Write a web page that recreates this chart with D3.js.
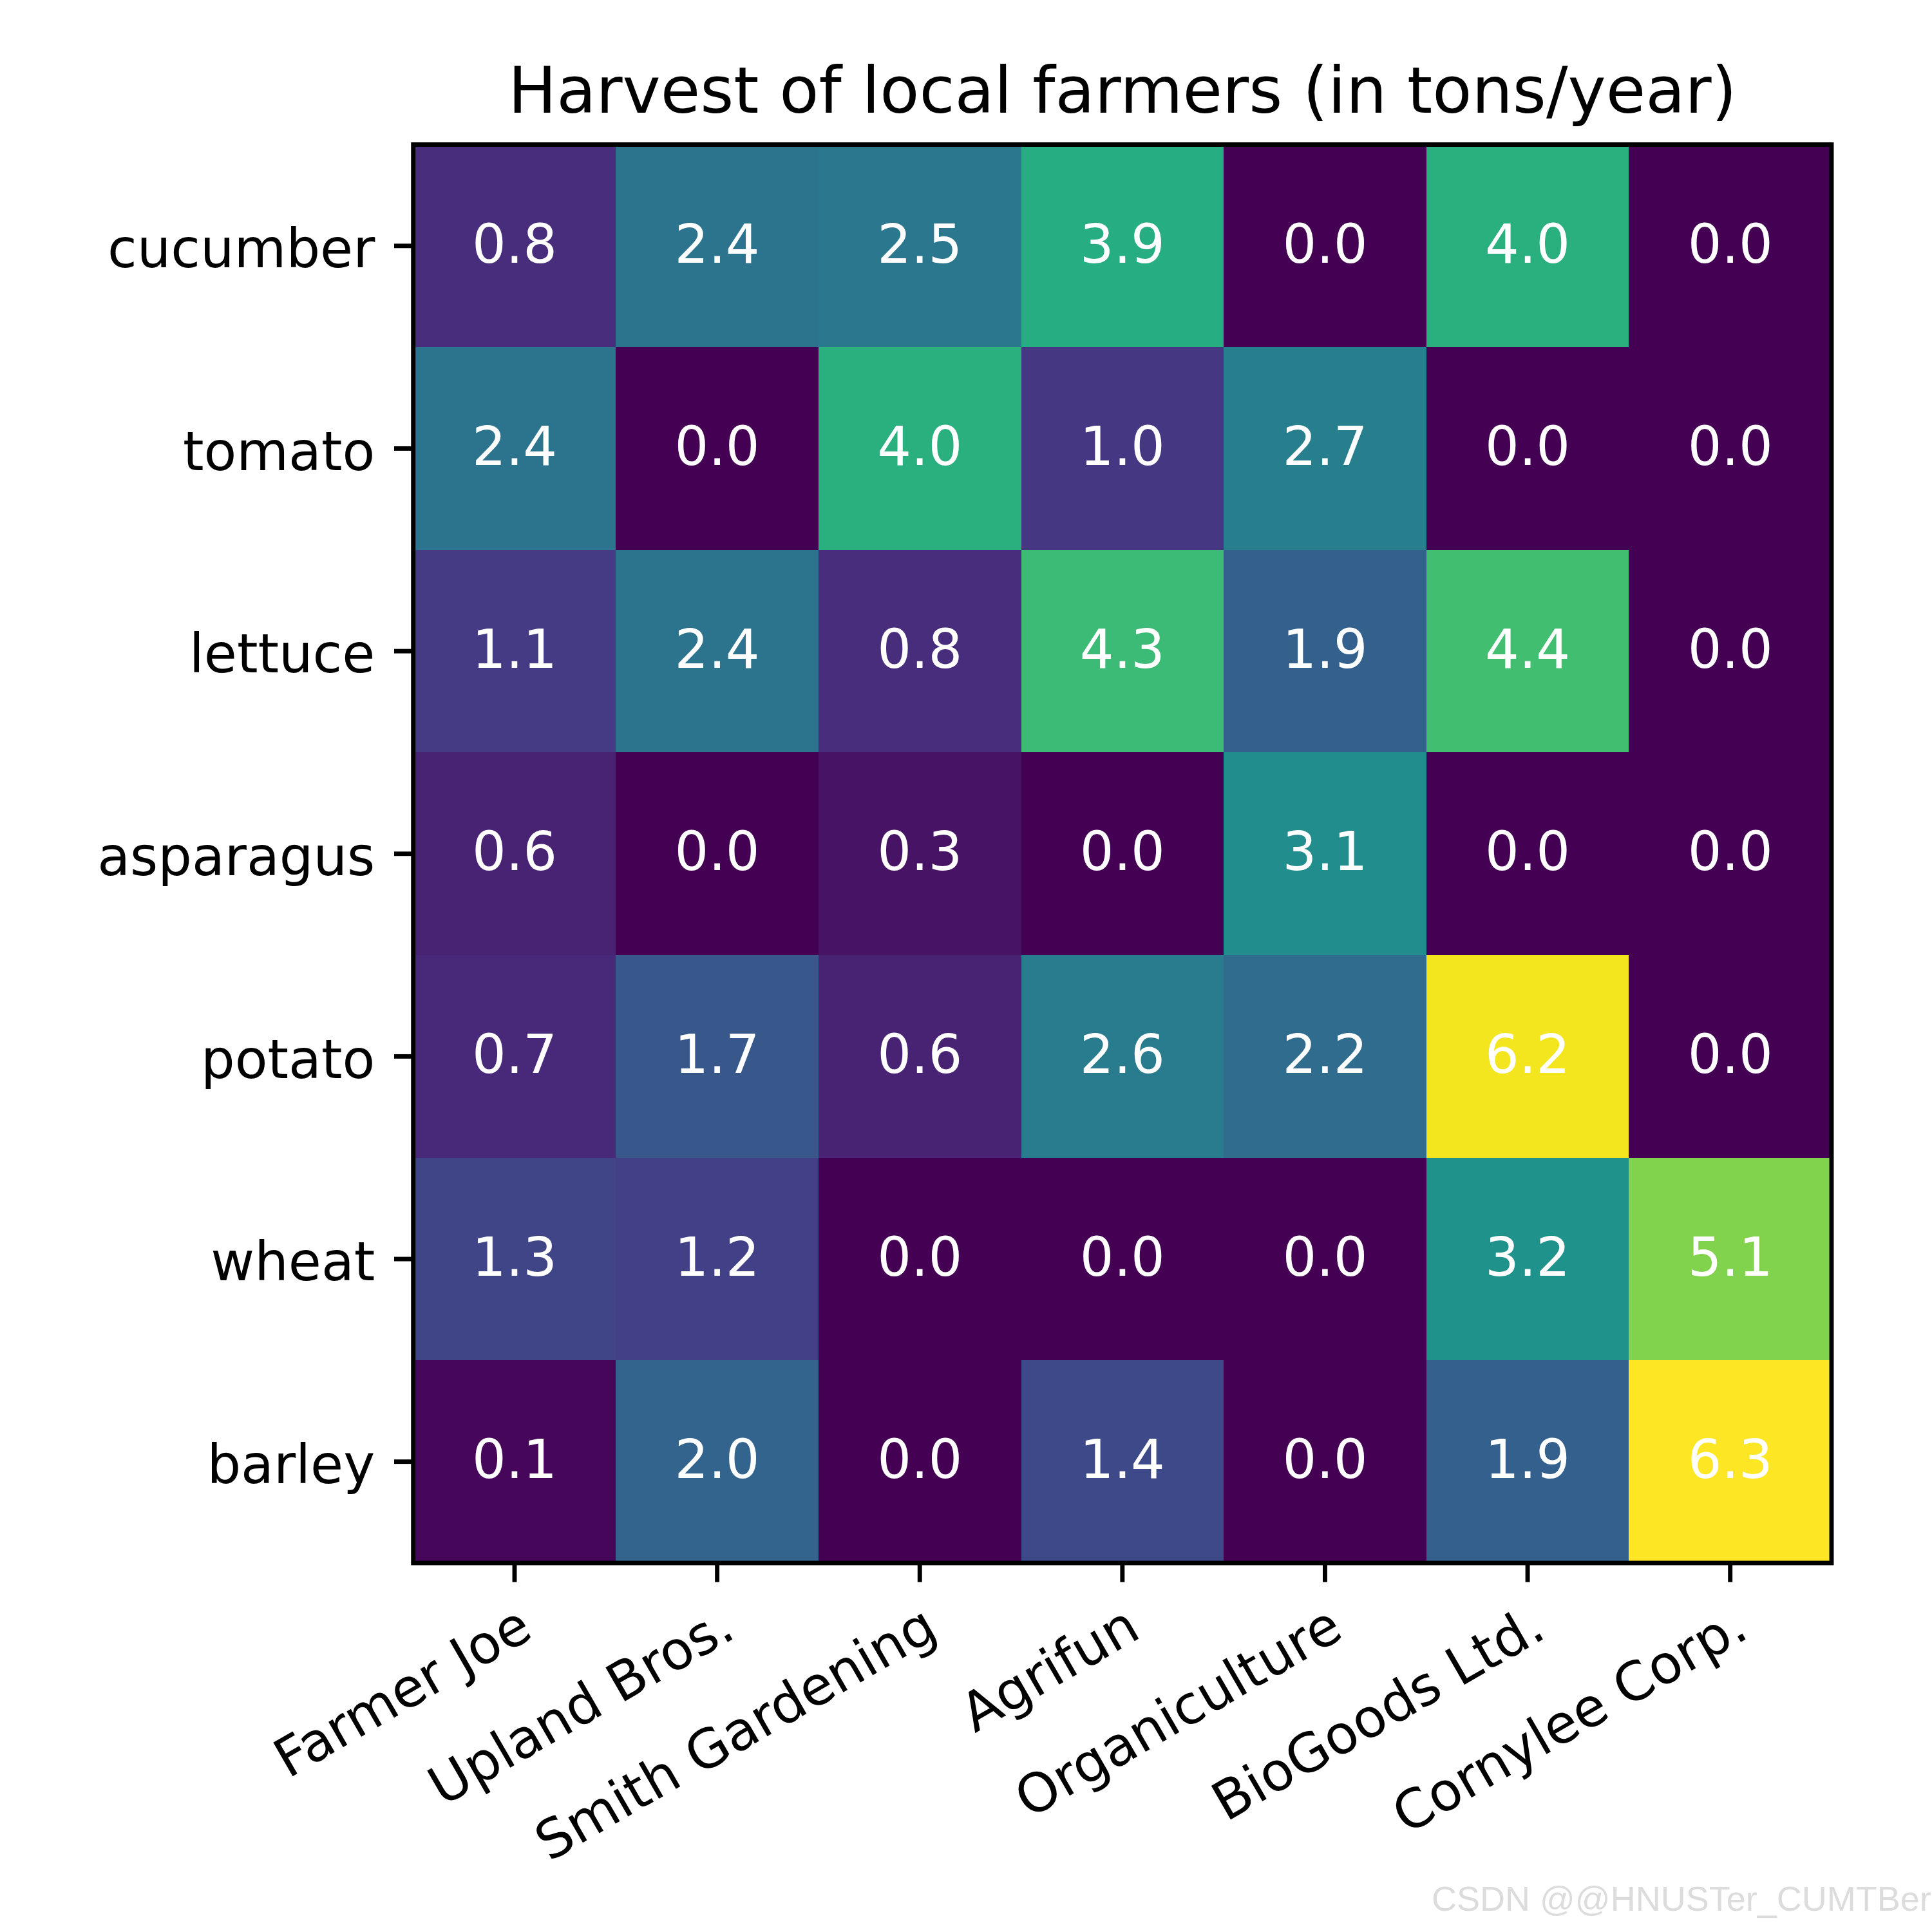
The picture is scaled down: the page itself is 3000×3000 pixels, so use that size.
<!DOCTYPE html>
<html>
<head>
<meta charset="utf-8">
<script src="https://cdn.jsdelivr.net/npm/d3@7"></script>
<style>
  body { margin: 0; background: white; }
  svg { display: block; }
</style>
</head>
<body>
<div id="the_chart"></div>
<script>
var vegetables = ["cucumber", "tomato", "lettuce", "asparagus", "potato", "wheat", "barley"];
var farmers = ["Farmer Joe", "Upland Bros.", "Smith Gardening", "Agrifun", "Organiculture", "BioGoods Ltd.", "Cornylee Corp."];

// one row per vegetable, one value per farmer
var cucumber  = [0.8, 2.4, 2.5, 3.9, 0.0, 4.0, 0.0];
var tomato    = [2.4, 0.0, 4.0, 1.0, 2.7, 0.0, 0.0];
var lettuce   = [1.1, 2.4, 0.8, 4.3, 1.9, 4.4, 0.0];
var asparagus = [0.6, 0.0, 0.3, 0.0, 3.1, 0.0, 0.0];
var potato    = [0.7, 1.7, 0.6, 2.6, 2.2, 6.2, 0.0];
var wheat     = [1.3, 1.2, 0.0, 0.0, 0.0, 3.2, 5.1];
var barley    = [0.1, 2.0, 0.0, 1.4, 0.0, 1.9, 6.3];
var harvest = [cucumber, tomato, lettuce, asparagus, potato, wheat, barley];

var title = "Harvest of local farmers (in tons/year)";
var watermark = "CSDN @@HNUSTer_CUMTBer";

var cells = [];
harvest.forEach(function(row, i) {
    row.forEach(function(v, j) {
        cells.push({veg: vegetables[i], farmer: farmers[j], value: v});
    });
});

var w = 3000;
var h = 3000;
// axes box (note: "top" is a reserved window global, so prefix everything)
var axLeft = 641.7, axRight = 2844, axTop = 224.5, axBottom = 2427;
var lw = 6.9;        // spine / tick width
var tickLen = 29.7;
var pad = 29.7;
var fs = 83;         // tick label + annotation size

var svg = d3.select("#the_chart")
            .append("svg")
            .attr("width", w)
            .attr("height", h)
            .style("overflow", "hidden");

var xscale = d3.scaleBand()
               .domain(farmers)
               .range([axLeft, axRight])
               .padding(0);

var yscale = d3.scaleBand()
               .domain(vegetables)
               .range([axTop, axBottom])
               .padding(0);

var cscale = d3.scaleSequential(d3.interpolateViridis)
               .domain([0, d3.max(cells, function(d) { return d.value; })]);

// heatmap cells
svg.append("g")
   .selectAll("rect")
   .data(cells)
 .enter().append("rect")
   .attr("x", function(d) { return xscale(d.farmer); })
   .attr("y", function(d) { return yscale(d.veg); })
   .attr("width", xscale.bandwidth() + 0.5)
   .attr("height", yscale.bandwidth() + 0.5)
   .attr("fill", function(d) { return cscale(d.value); })
   .attr("shape-rendering", "crispEdges");

// value labels
svg.append("g")
   .selectAll("text")
   .data(cells)
 .enter().append("text")
   .attr("x", function(d) { return xscale(d.farmer) + xscale.bandwidth() / 2; })
   .attr("y", function(d) { return yscale(d.veg) + yscale.bandwidth() / 2; })
   .attr("dy", "0.31em")
   .attr("text-anchor", "middle")
   .attr("font-family", "DejaVu Sans")
   .attr("font-size", fs)
   .attr("fill", "white")
   .text(function(d) { return d.value.toFixed(1); });

// frame
svg.append("rect")
   .attr("x", axLeft)
   .attr("y", axTop)
   .attr("width", axRight - axLeft)
   .attr("height", axBottom - axTop)
   .attr("fill", "none")
   .attr("stroke", "black")
   .attr("stroke-width", lw)
   .attr("stroke-linejoin", "miter");

var xaxis = d3.axisBottom(xscale).tickSize(tickLen).tickSizeOuter(0);
var yaxis = d3.axisLeft(yscale).tickSize(tickLen).tickSizeOuter(0);

var gX = svg.append("g")
   .attr("transform", "translate(0," + axBottom + ")")
   .call(xaxis);

var gY = svg.append("g")
   .attr("transform", "translate(" + axLeft + ",0)")
   .call(yaxis);

[gX, gY].forEach(function(g) {
    g.select(".domain").remove();
    g.selectAll(".tick line").attr("stroke", "black").attr("stroke-width", lw);
    g.selectAll(".tick text")
     .attr("font-family", "DejaVu Sans")
     .attr("font-size", fs)
     .attr("fill", "black");
});

gX.selectAll(".tick text")
  .attr("x", 0)
  .attr("y", 0)
  .attr("dy", "0.76em")
  .attr("text-anchor", "end")
  .attr("transform", "translate(0," + (tickLen + pad) + ") rotate(-30)");

gY.selectAll(".tick text")
  .attr("x", -(tickLen + pad))
  .attr("dy", "0.40em")
  .attr("text-anchor", "end");

// title
svg.append("text")
   .attr("x", (axLeft + axRight) / 2)
   .attr("y", 175)
   .attr("text-anchor", "middle")
   .attr("font-family", "DejaVu Sans")
   .attr("font-size", 100)
   .attr("fill", "black")
   .text(title);

// watermark
svg.append("text")
   .attr("x", 2223)
   .attr("y", 2967)
   .attr("font-family", "Liberation Sans")
   .attr("font-size", 54)
   .attr("fill", "#dcdcdc")
   .text(watermark);
</script>
</body>
</html>
